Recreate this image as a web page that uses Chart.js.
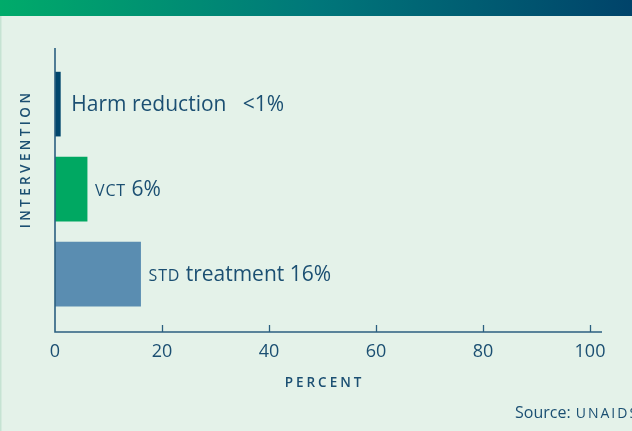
<!DOCTYPE html>
<html>
<head>
<meta charset="utf-8">
<script src="https://cdn.jsdelivr.net/npm/chart.js@4/dist/chart.umd.min.js"></script>
<style>
  html,body{margin:0;padding:0;background:#e4f2e9;}
  #wrap{width:632px;height:431px;position:relative;}
</style>
</head>
<body>
<div id="wrap"><canvas id="c" width="632" height="431"></canvas></div>
<script>
// ---- data ----
const categories = ['Harm reduction', 'VCT', 'STD treatment'];
const values = [1, 6, 16];
const valueLabels = ['<1%', '6%', '16%'];
const xTickValues = [0, 20, 40, 60, 80, 100];
const barColors = ['#00466c', '#00a862', '#5a8db1'];
const xTitle = 'PERCENT';
const yTitle = 'INTERVENTION';
const sourceLabel = 'Source:';
const sourceName = 'UNAIDS';

const TEXT = '#1b4f72';
const AXIS = '#2b5f80';
const FONT = '"Open Sans", "Noto Sans", sans-serif';

// label runs: acronyms drawn as small caps
function labelRuns(i) {
  const name = categories[i];
  const runs = [];
  name.split(' ').forEach((w, k) => {
    const sep = k > 0 ? ' ' : '';
    if (w.length > 1 && w === w.toUpperCase()) {
      if (sep) runs.push({t: sep, sc: false});
      runs.push({t: w, sc: true});
    } else {
      runs.push({t: sep + w, sc: false});
    }
  });
  runs.push({t: (i === 0 ? '   ' : ' ') + valueLabels[i], sc: false});
  return runs;
}

function drawRuns(ctx, runs, x, y, size, scSize, scSpacing) {
  runs.forEach(r => {
    if (r.sc) {
      ctx.font = scSize + 'px ' + FONT;
      ctx.letterSpacing = scSpacing + 'px';
    } else {
      ctx.font = size + 'px ' + FONT;
      ctx.letterSpacing = '0px';
    }
    ctx.fillText(r.t, x, y);
    x += ctx.measureText(r.t).width;
  });
  ctx.letterSpacing = '0px';
}

const decor = {
  id: 'decor',
  beforeDraw(chart) {
    const ctx = chart.ctx;
    ctx.save();
    ctx.fillStyle = '#e4f2e9';
    ctx.fillRect(0, 0, chart.width, chart.height);
    const g = ctx.createLinearGradient(0, 0, chart.width, 0);
    g.addColorStop(0, '#00ab6a');
    g.addColorStop(0.5, '#00777a');
    g.addColorStop(1, '#00436a');
    ctx.fillStyle = g;
    ctx.fillRect(0, 0, chart.width, 16);
    ctx.fillStyle = '#c6e3d3';
    ctx.fillRect(0, 16, 1.5, chart.height - 16);
    ctx.restore();
  },
  afterDraw(chart) {
    const ctx = chart.ctx;
    const xs = chart.scales.x, ys = chart.scales.y;
    const area = chart.chartArea;
    ctx.save();
    // axis lines
    ctx.strokeStyle = AXIS;
    ctx.lineWidth = 1.6;
    ctx.beginPath();
    ctx.moveTo(area.left, area.top);
    ctx.lineTo(area.left, area.bottom);
    ctx.lineTo(area.right + 12, area.bottom);
    ctx.stroke();
    // inward ticks
    ctx.lineWidth = 1.3;
    xTickValues.forEach(v => {
      if (v === 0) return;
      const px = Math.round(xs.getPixelForValue(v)) + 0.5;
      ctx.beginPath();
      ctx.moveTo(px, area.bottom);
      ctx.lineTo(px, area.bottom - 7);
      ctx.stroke();
    });
    // bar labels
    ctx.fillStyle = TEXT;
    ctx.textBaseline = 'alphabetic';
    ctx.textAlign = 'left';
    values.forEach((v, i) => {
      const x = xs.getPixelForValue(v) + (i === 0 ? 11 : 8);
      const y = ys.getPixelForValue(i) + 7;
      drawRuns(ctx, labelRuns(i), x, y, 21, 16, 0.8);
    });
    // x title
    ctx.font = '600 13.5px ' + FONT;
    ctx.letterSpacing = '3px';
    ctx.textAlign = 'center';
    ctx.fillText(xTitle, (xs.getPixelForValue(0) + xs.getPixelForValue(100)) / 2 + 2, 387);
    // y title
    ctx.save();
    ctx.letterSpacing = '3.4px';
    ctx.translate(30, 159);
    ctx.rotate(-Math.PI / 2);
    ctx.fillText(yTitle, 0, 0);
    ctx.restore();
    // source
    ctx.textAlign = 'left';
    ctx.letterSpacing = '0px';
    ctx.font = '16px ' + FONT;
    ctx.fillText(sourceLabel + ' ', 515, 418);
    const w = ctx.measureText(sourceLabel + ' ').width;
    ctx.font = '14px ' + FONT;
    ctx.letterSpacing = '2px';
    ctx.fillText(sourceName, 515 + w + 1, 418);
    ctx.restore();
  }
};

new Chart(document.getElementById('c'), {
  type: 'bar',
  data: {
    datasets: [{
      data: values.map((v, i) => ({x: v, y: i})),
      backgroundColor: barColors,
      borderWidth: 0,
      barThickness: 64
    }]
  },
  options: {
    indexAxis: 'y',
    responsive: false,
    animation: false,
    devicePixelRatio: 1,
    layout: {padding: {top: 48, right: 42, left: 0, bottom: 0}},
    plugins: {legend: {display: false}, tooltip: {enabled: false}},
    scales: {
      x: {
        type: 'linear',
        min: 0, max: 100,
        offset: false,
        grid: {display: false, drawTicks: false},
        border: {display: false},
        afterBuildTicks: s => { s.ticks = xTickValues.map(v => ({value: v})); },
        afterFit: s => { s.height = 99; },
        ticks: {
          color: TEXT,
          padding: 9,
          font: {family: FONT, size: 18},
          maxRotation: 0
        }
      },
      y: {
        type: 'linear',
        reverse: true,
        offset: false,
        min: -0.66, max: 2.68,
        grid: {display: false, drawTicks: false, offset: false},
        border: {display: false},
        ticks: {display: false},
        afterFit: s => { s.width = 55; }
      }
    }
  },
  plugins: [decor]
});
</script>
</body>
</html>
